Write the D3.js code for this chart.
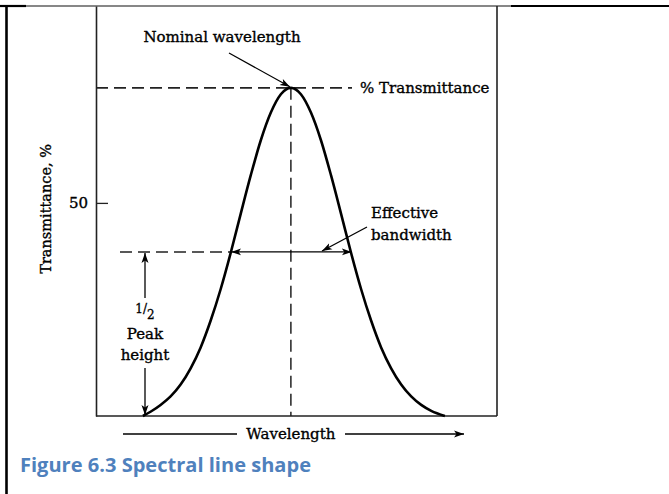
<!DOCTYPE html>
<html><head><meta charset="utf-8">
<script src="https://cdn.jsdelivr.net/npm/d3@7"></script>
<style>html,body{margin:0;padding:0;background:#fff}svg{display:block}</style>
</head><body>
<script>
// ---- data ----
const wavelength = [11.7, 13.6, 16.1, 18.6, 21.1, 23.6, 26.1, 28.6, 31.1, 33.6, 36.1, 38.6, 41.1, 43.6, 46.1, 48.6,
  51.1, 53.6, 56.1, 58.6, 61.1, 63.6, 66.1, 68.6, 71.1, 73.6, 76.1, 78.6, 81.1, 83.6, 87.0];
const transmittance = [0, 1.0, 2.6, 4.6, 7.4, 11.2, 16.1, 22.4, 29.8, 38.3, 47.5, 56.5, 64.7, 71.2, 75.5, 77,
  75.5, 71.2, 64.7, 56.5, 47.5, 38.3, 29.8, 22.4, 16.1, 11.2, 7.4, 4.6, 2.6, 1.2, 0];
const yTicks = [50];
const peakWavelength = 48.6;
const peakValue = 77;
const halfValue = 38.5;
const halfLeft = 33.7, halfRight = 63.8;
const labels = {
  nominal: "Nominal wavelength",
  trans: "% Transmittance",
  eff1: "Effective", eff2: "bandwidth",
  peak: "Peak", height: "height",
  xLabel: "Wavelength",
  yLabel: "Transmittance, %",
  caption: "Figure 6.3 Spectral line shape"
};

const W = 669, H = 494;
const svg = d3.select("body").append("svg").attr("width", W).attr("height", H);
const serif = "'DejaVu Serif', 'Liberation Serif', serif";

const x = d3.scaleLinear().domain([0, 100]).range([96, 497]);
const y = d3.scaleLinear().domain([0, 96.2]).range([416, 6]);

// markers
const defs = svg.append("defs");
defs.append("marker").attr("id", "ah").attr("viewBox", "0 0 10 10")
  .attr("refX", 10).attr("refY", 5).attr("markerWidth", 10).attr("markerHeight", 10)
  .attr("markerUnits", "userSpaceOnUse").attr("orient", "auto-start-reverse")
  .append("path").attr("d", "M0,1.5 L10,5 L0,8.5 L2.5,5 Z").attr("fill", "#000");

// page table borders
svg.append("line").attr("x1", 0).attr("x2", 26).attr("y1", 6).attr("y2", 6).attr("stroke", "#000").attr("stroke-width", 2.2);
svg.append("line").attr("x1", 511).attr("x2", 669).attr("y1", 6).attr("y2", 6).attr("stroke", "#000").attr("stroke-width", 2.2);
svg.append("line").attr("x1", 26).attr("x2", 511).attr("y1", 6).attr("y2", 6).attr("stroke", "#111").attr("stroke-width", 1.2);
svg.append("line").attr("x1", 6.5).attr("x2", 6.5).attr("y1", 5).attr("y2", H).attr("stroke", "#000").attr("stroke-width", 2.6);

// plot frame
const g = svg.append("g");
g.append("line").attr("x1", x(100)).attr("x2", x(100)).attr("y1", y(96.2)).attr("y2", y(0)).attr("stroke", "#222").attr("stroke-width", 1.6);
g.append("line").attr("x1", x(0)).attr("x2", x(100)).attr("y1", y(0)).attr("y2", y(0)).attr("stroke", "#222").attr("stroke-width", 1.6);

const yAxis = d3.axisLeft(y).tickValues(yTicks).tickSizeInner(-12).tickSizeOuter(0).tickPadding(8);
const ya = g.append("g").attr("transform", `translate(${x(0)},0)`).call(yAxis);
ya.select(".domain").attr("stroke", "#222").attr("stroke-width", 1.6);
ya.selectAll(".tick line").attr("stroke", "#222").attr("stroke-width", 1.3);
ya.selectAll(".tick text").attr("font-family", serif).attr("font-size", 15).attr("fill", "#000")
  .attr("stroke", "#000").attr("stroke-width", 0.35);

// y label
svg.append("text").attr("transform", `translate(51,${y(50) + 6}) rotate(-90)`)
  .attr("text-anchor", "middle").attr("font-family", serif).attr("font-size", 14.5)
  .attr("stroke", "#000").attr("stroke-width", 0.35).text(labels.yLabel);

// dashed guides
const dash = "12,6";
g.append("line").attr("x1", x(0)).attr("x2", 352).attr("y1", y(peakValue)).attr("y2", y(peakValue))
  .attr("stroke", "#222").attr("stroke-width", 1.6).attr("stroke-dasharray", dash);
g.append("line").attr("x1", x(peakWavelength)).attr("x2", x(peakWavelength)).attr("y1", y(peakValue)).attr("y2", y(0))
  .attr("stroke", "#222").attr("stroke-width", 1.5).attr("stroke-dasharray", dash);
g.append("line").attr("x1", 120).attr("x2", x(halfLeft)).attr("y1", y(halfValue)).attr("y2", y(halfValue))
  .attr("stroke", "#222").attr("stroke-width", 1.5).attr("stroke-dasharray", dash);

// bandwidth double arrow
g.append("line").attr("x1", x(halfLeft)).attr("x2", x(halfRight)).attr("y1", y(halfValue)).attr("y2", y(halfValue))
  .attr("stroke", "#000").attr("stroke-width", 1.3)
  .attr("marker-start", "url(#ah)").attr("marker-end", "url(#ah)");

// curve
const pts = wavelength.map((w, i) => [w, transmittance[i]]);
g.append("path").datum(pts)
  .attr("d", d3.line().x(d => x(d[0])).y(d => y(d[1])).curve(d3.curveMonotoneX))
  .attr("fill", "none").attr("stroke", "#000").attr("stroke-width", 2.6);

// texts
const T = (tx, ty, s, anchor = "start", size = 15) => svg.append("text").attr("x", tx).attr("y", ty)
  .attr("text-anchor", anchor).attr("font-family", serif).attr("font-size", size).attr("fill", "#000")
  .attr("stroke", "#000").attr("stroke-width", 0.35).text(s);

T(222, 42, labels.nominal, "middle");
svg.append("line").attr("x1", 229).attr("y1", 53).attr("x2", x(peakWavelength) - 1).attr("y2", y(peakValue) - 1)
  .attr("stroke", "#000").attr("stroke-width", 1.2).attr("marker-end", "url(#ah)");
T(360, 93, labels.trans, "start");
T(371, 218, labels.eff1, "start");
T(371, 240, labels.eff2, "start");
svg.append("line").attr("x1", 367).attr("y1", 227).attr("x2", 322).attr("y2", y(halfValue) - 1)
  .attr("stroke", "#000").attr("stroke-width", 1.2).attr("marker-end", "url(#ah)");

// half peak height
const hx = 145;
svg.append("line").attr("x1", hx).attr("x2", hx).attr("y1", 298).attr("y2", y(halfValue) + 1)
  .attr("stroke", "#000").attr("stroke-width", 1.3).attr("marker-end", "url(#ah)");
svg.append("line").attr("x1", hx).attr("x2", hx).attr("y1", 368).attr("y2", y(0) - 1)
  .attr("stroke", "#000").attr("stroke-width", 1.3).attr("marker-end", "url(#ah)");
const half = svg.append("text").attr("x", hx).attr("y", 316).attr("text-anchor", "middle")
  .attr("font-family", serif).attr("font-size", 12).attr("stroke", "#000").attr("stroke-width", 0.3);
half.append("tspan").attr("dy", -3).text("1");
half.append("tspan").attr("dy", 0).text("/");
half.append("tspan").attr("dy", 6).text("2");
T(hx, 339, labels.peak, "middle");
T(hx, 360, labels.height, "middle");

// x label with arrow
T(x(peakWavelength), 439, labels.xLabel, "middle");
svg.append("line").attr("x1", 123).attr("x2", 237).attr("y1", 434).attr("y2", 434).attr("stroke", "#000").attr("stroke-width", 1.3);
svg.append("line").attr("x1", 345).attr("x2", 464).attr("y1", 434).attr("y2", 434).attr("stroke", "#000").attr("stroke-width", 1.3)
  .attr("marker-end", "url(#ah)");

// caption
svg.append("text").attr("x", 20).attr("y", 472).attr("font-family", "'Open Sans', Lato, sans-serif")
  .attr("font-weight", "bold").attr("font-size", 19).attr("fill", "#4f81bd")
  .attr("textLength", 291).attr("lengthAdjust", "spacingAndGlyphs").text(labels.caption);
</script>
</body></html>
